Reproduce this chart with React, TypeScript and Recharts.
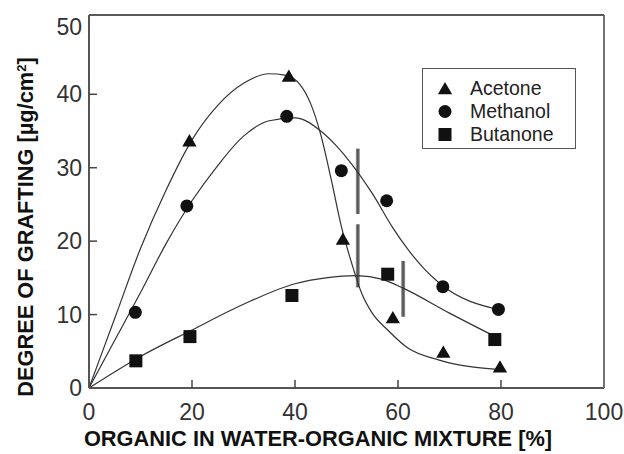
import React from "react";
import {
  ComposedChart,
  Line,
  Scatter,
  XAxis,
  YAxis,
  ReferenceArea,
  ReferenceLine,
  Label,
} from "recharts";

// values
const xTicks = [0, 20, 40, 60, 80, 100];
const yTicks = [0, 10, 20, 30, 40, 50];

const acetonePts = [
  { x: 19.5, y: 33.7 },
  { x: 38.8, y: 42.5 },
  { x: 49.3, y: 20.3 },
  { x: 59, y: 9.6 },
  { x: 68.8, y: 4.9 },
  { x: 79.8, y: 2.9 },
];
const methanolPts = [
  { x: 9, y: 10.3 },
  { x: 19, y: 24.8 },
  { x: 38.4, y: 37 },
  { x: 49, y: 29.6 },
  { x: 57.8, y: 25.5 },
  { x: 68.7, y: 13.8 },
  { x: 79.5, y: 10.7 },
];
const butanonePts = [
  { x: 9.1, y: 3.7 },
  { x: 19.6, y: 7.0 },
  { x: 39.4, y: 12.6 },
  { x: 58, y: 15.5 },
  { x: 78.8, y: 6.6 },
];

// fitted curves
const acetoneFit = [
  { x: 0, y: 0 }, { x: 5, y: 9.5 }, { x: 10, y: 19 }, { x: 15, y: 27 },
  { x: 20, y: 33.8 }, { x: 25, y: 38.5 }, { x: 30, y: 41.5 }, { x: 35, y: 42.8 },
  { x: 38, y: 42.6 }, { x: 41, y: 41.3 }, { x: 43, y: 38.8 }, { x: 45, y: 34.5 },
  { x: 47, y: 28.5 }, { x: 49, y: 22 }, { x: 51, y: 17 }, { x: 53, y: 12.8 },
  { x: 55, y: 10.2 }, { x: 58, y: 7.9 }, { x: 62, y: 5.4 }, { x: 68, y: 3.8 },
  { x: 80, y: 2.5 },
];
const methanolFit = [
  { x: 0, y: 0 }, { x: 5, y: 6.5 }, { x: 10, y: 13 }, { x: 15, y: 19.7 },
  { x: 20, y: 25.5 }, { x: 25, y: 30.3 }, { x: 30, y: 34.3 }, { x: 35, y: 36.4 },
  { x: 40, y: 36.8 }, { x: 45, y: 35 }, { x: 48, y: 33 }, { x: 51, y: 30.5 },
  { x: 55, y: 26.5 }, { x: 59, y: 21.8 }, { x: 62, y: 18.8 }, { x: 65, y: 16.3 },
  { x: 68, y: 14.3 }, { x: 80, y: 10.6 },
];
const butanoneFit = [
  { x: 0, y: 0 }, { x: 10, y: 4.3 }, { x: 20, y: 7.9 }, { x: 30, y: 11.4 },
  { x: 40, y: 14.2 }, { x: 46, y: 15 }, { x: 52, y: 15.3 }, { x: 57, y: 14.8 },
  { x: 61, y: 13.6 }, { x: 70, y: 10.2 }, { x: 80, y: 6.6 },
];

// grey vertical bars in the figure
const markerBars = [
  { x: 52.2, y1: 23.7, y2: 32.6 },
  { x: 52.2, y1: 13.7, y2: 22.3 },
  { x: 61, y1: 9.7, y2: 17.3 },
];

const FONT = '"Liberation Sans", Arial, Helvetica, sans-serif';
const INK = "#111";
const Y_MAX = 50.8;

const Triangle = ({ cx, cy, s = 13 }: any) => (
  <polygon
    points={`${cx},${cy - s * 0.5} ${cx - s * 0.55},${cy + s * 0.45} ${cx + s * 0.55},${cy + s * 0.45}`}
    fill={INK}
  />
);
const Circle = ({ cx, cy, s = 13 }: any) => <circle cx={cx} cy={cy} r={s / 2} fill={INK} />;
const Square = ({ cx, cy, s = 13 }: any) => (
  <rect x={cx - s / 2} y={cy - s / 2} width={s} height={s} fill={INK} />
);

const series = [
  { name: "Acetone", pts: acetonePts, fit: acetoneFit, Shape: Triangle },
  { name: "Methanol", pts: methanolPts, fit: methanolFit, Shape: Circle },
  { name: "Butanone", pts: butanonePts, fit: butanoneFit, Shape: Square },
];

function XTick({ x, y, payload }: any) {
  const v = payload.value;
  return (
    <g>
      {v !== 0 && v !== 100 && (
        <line x1={x} x2={x} y1={388} y2={380} stroke="#444" strokeWidth={1.5} />
      )}
      <text x={x} y={y} dy="0.71em" textAnchor="middle" fontSize={23} fill="#333" fontFamily={FONT}>
        {v}
      </text>
    </g>
  );
}

function YTick({ x, y, payload }: any) {
  const v = payload.value;
  return (
    <g>
      {v !== 0 && v !== 50 && (
        <line x1={x + 7} x2={x + 15} y1={y} y2={y} stroke="#444" strokeWidth={1.5} />
      )}
      <text
        x={x}
        y={v === 50 ? y + 6 : y}
        dy="0.355em"
        textAnchor="end"
        fontSize={23}
        fill="#333"
        fontFamily={FONT}
      >
        {v}
      </text>
    </g>
  );
}

export default function App() {
  return (
    <div style={{ position: "absolute", left: 0, top: 0, width: 624, height: 454, background: "#fff" }}>
      <ComposedChart width={624} height={454} margin={{ top: 15, right: 20, bottom: 0, left: 0 }}>
        <defs>
          <linearGradient id="barGrad" x1="0" y1="0" x2="1" y2="0">
            <stop offset="0%" stopColor="#aaa" />
            <stop offset="50%" stopColor="#444" />
            <stop offset="100%" stopColor="#aaa" />
          </linearGradient>
        </defs>
        <XAxis
          dataKey="x"
          type="number"
          domain={[0, 100]}
          ticks={xTicks}
          height={66}
          tickSize={0}
          tickMargin={16}
          tick={<XTick />}
          axisLine={{ stroke: "#555", strokeWidth: 2 }}
          tickLine={false}
          interval={0}
        >
          <Label
            content={({ viewBox }: any) => (
              <text
                x={viewBox.x + 229}
                y={446}
                textAnchor="middle"
                fontSize={21.8}
                fontWeight="bold"
                fill={INK}
                fontFamily={FONT}
              >
                ORGANIC IN WATER-ORGANIC MIXTURE [%]
              </text>
            )}
          />
        </XAxis>
        <YAxis
          dataKey="y"
          type="number"
          domain={[0, Y_MAX]}
          ticks={yTicks}
          width={89}
          tickSize={0}
          tickMargin={7}
          tick={<YTick />}
          axisLine={{ stroke: "#555", strokeWidth: 2 }}
          tickLine={false}
          interval={0}
        >
          <Label
            content={() => (
              <text
                x={0}
                y={0}
                transform="translate(33 227) rotate(-90)"
                textAnchor="middle"
                fontSize={21.8}
                fontWeight="bold"
                fill={INK}
                fontFamily={FONT}
              >
                DEGREE OF GRAFTING [µg/cm
                <tspan dy={-7} fontSize={13}>2</tspan>
                <tspan dy={7}>]</tspan>
              </text>
            )}
          />
        </YAxis>

        <ReferenceLine y={Y_MAX} stroke="#222" strokeWidth={1.5} />
        <ReferenceLine x={100} stroke="#444" strokeWidth={1.5} />

        {series.map((s) => (
          <Line
            key={s.name + "-fit"}
            data={s.fit}
            dataKey="y"
            type="monotone"
            stroke="#333"
            strokeWidth={1.2}
            dot={false}
            activeDot={false}
            isAnimationActive={false}
          />
        ))}

        {markerBars.map((b, i) => (
          <ReferenceArea
            key={"bar" + i}
            x1={b.x - 0.4}
            x2={b.x + 0.4}
            y1={b.y1}
            y2={b.y2}
            fill="url(#barGrad)"
            fillOpacity={1}
            stroke="none"
          />
        ))}

        {series.map((s) => (
          <Scatter
            key={s.name}
            name={s.name}
            data={s.pts}
            dataKey="y"
            shape={(p: any) => <s.Shape cx={p.cx} cy={p.cy} />}
            isAnimationActive={false}
          />
        ))}
      </ComposedChart>

      <div
        style={{
          position: "absolute",
          left: 422,
          top: 68,
          width: 152,
          height: 79,
          border: "1.5px solid #555",
          background: "#fff",
          fontFamily: FONT,
          fontSize: 19.5,
          color: "#222",
        }}
      >
        {series.map((s, i) => (
          <div
            key={s.name}
            style={{ position: "absolute", left: 0, top: 8 + i * 23, height: 23, display: "flex", alignItems: "center" }}
          >
            <svg width={44} height={23} style={{ display: "block" }}>
              <s.Shape cx={22} cy={11.5} s={13} />
            </svg>
            <span style={{ marginLeft: 3, lineHeight: "23px" }}>{s.name}</span>
          </div>
        ))}
      </div>
    </div>
  );
}
